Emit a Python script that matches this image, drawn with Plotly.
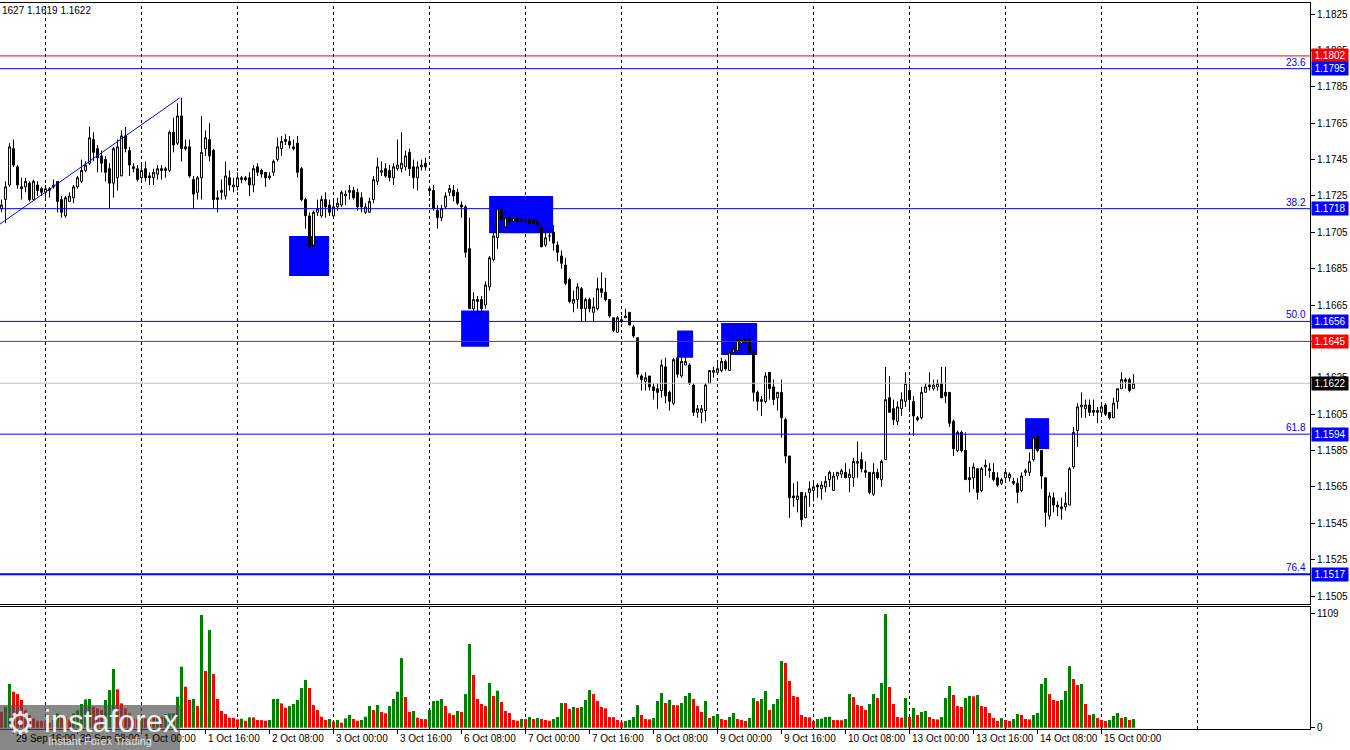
import pandas as pd
import plotly.graph_objects as go

# ---------------- data (EURUSD H1) ----------------
open_ = [1.1718,1.1723,1.1731,1.1751,1.1741,1.1730,1.1730,1.1732,1.1723,1.1731,1.1729,1.1727,1.1728,1.1730,1.1733,1.1723,1.1714,1.1722,1.1724,1.1730,
1.1733,1.1739,1.1743,1.1756,1.1751,1.1747,1.1745,1.1740,1.1732,1.1735,1.1736,1.1758,1.1750,1.1741,1.1740,1.1735,1.1740,1.1736,1.1735,1.1737,
1.1740,1.1739,1.1739,1.1760,1.1754,1.1769,1.1752,1.1752,1.1734,1.1727,1.1735,1.1751,1.1756,1.1750,1.1723,1.1728,1.1725,1.1735,1.1730,1.1730,
1.1734,1.1735,1.1735,1.1731,1.1741,1.1739,1.1738,1.1735,1.1738,1.1745,1.1751,1.1756,1.1755,1.1752,1.1754,1.1740,1.1723,1.1714,1.1698,1.1716,
1.1714,1.1723,1.1720,1.1714,1.1719,1.1720,1.1725,1.1727,1.1728,1.1727,1.1724,1.1716,1.1716,1.1723,1.1733,1.1738,1.1740,1.1739,1.1735,1.1740,
1.1740,1.1741,1.1749,1.1741,1.1735,1.1741,1.1743,1.1729,1.1728,1.1717,1.1713,1.1719,1.1727,1.1728,1.1727,1.1720,1.1719,1.1696,1.1663,1.1668,
1.1668,1.1665,1.1675,1.1690,1.1702,1.1718,1.1708,1.1713,1.1711,1.1713,1.1711,1.1711,1.1712,1.1712,1.1711,1.1708,1.1698,1.1703,1.1705,1.1698,
1.1692,1.1687,1.1679,1.1666,1.1668,1.1674,1.1663,1.1668,1.1661,1.1663,1.1674,1.1672,1.1668,1.1658,1.1650,1.1656,1.1658,1.1661,1.1653,1.1647,
1.1626,1.1623,1.1626,1.1620,1.1619,1.1618,1.1631,1.1617,1.1611,1.1636,1.1626,1.1632,1.1632,1.1621,1.1606,1.1606,1.1607,1.1622,1.1628,1.1628,
1.1629,1.1634,1.1629,1.1639,1.1640,1.1644,1.1645,1.1646,1.1639,1.1617,1.1612,1.1612,1.1628,1.1620,1.1614,1.1617,1.1602,1.1582,1.1560,1.1558,
1.1562,1.1548,1.1562,1.1563,1.1566,1.1564,1.1565,1.1569,1.1563,1.1571,1.1572,1.1573,1.1570,1.1570,1.1578,1.1580,1.1574,1.1573,1.1561,1.1573,
1.1569,1.1580,1.1614,1.1608,1.1601,1.1608,1.1612,1.1618,1.1612,1.1603,1.1603,1.1617,1.1621,1.1619,1.1620,1.1622,1.1617,1.1617,1.1601,1.1585,
1.1595,1.1585,1.1570,1.1570,1.1575,1.1563,1.1576,1.1575,1.1573,1.1570,1.1567,1.1570,1.1570,1.1568,1.1567,1.1563,1.1573,1.1573,1.1580,1.1593,
1.1585,1.1570,1.1549,1.1559,1.1555,1.1554,1.1554,1.1555,1.1576,1.1596,1.1609,1.1608,1.1610,1.1606,1.1606,1.1606,1.1610,1.1606,1.1603,1.1612,
1.1619,1.1623,1.1624,1.1619]

high = [1.1723,1.1733,1.1754,1.1756,1.1742,1.1735,1.1735,1.1733,1.1734,1.1733,1.1730,1.1731,1.1730,1.1734,1.1733,1.1725,1.1725,1.1727,1.1731,1.1736,
1.1745,1.1744,1.1763,1.1760,1.1753,1.1750,1.1747,1.1743,1.1752,1.1756,1.1761,1.1763,1.1752,1.1743,1.1742,1.1743,1.1744,1.1738,1.1740,1.1742,
1.1742,1.1741,1.1761,1.1768,1.1776,1.1779,1.1756,1.1756,1.1736,1.1736,1.1769,1.1761,1.1765,1.1751,1.1728,1.1734,1.1744,1.1739,1.1735,1.1738,
1.1736,1.1736,1.1738,1.1742,1.1743,1.1740,1.1738,1.1738,1.1745,1.1757,1.1758,1.1759,1.1758,1.1756,1.1758,1.1741,1.1724,1.1716,1.1717,1.1723,
1.1725,1.1727,1.1723,1.1723,1.1724,1.1728,1.1728,1.1731,1.1730,1.1729,1.1727,1.1721,1.1724,1.1736,1.1746,1.1744,1.1743,1.1742,1.1743,1.1756,
1.1760,1.1750,1.1751,1.1745,1.1744,1.1745,1.1746,1.1730,1.1731,1.1720,1.1720,1.1727,1.1731,1.1731,1.1729,1.1722,1.1720,1.1713,1.1672,1.1670,
1.1670,1.1678,1.1692,1.1706,1.1722,1.1722,1.1717,1.1714,1.1714,1.1714,1.1713,1.1714,1.1714,1.1713,1.1714,1.1711,1.1706,1.1708,1.1709,1.1700,
1.1695,1.1691,1.1680,1.1673,1.1677,1.1675,1.1669,1.1669,1.1669,1.1680,1.1683,1.1680,1.1668,1.1658,1.1659,1.1659,1.1663,1.1661,1.1654,1.1647,
1.1627,1.1628,1.1626,1.1622,1.1622,1.1635,1.1636,1.1618,1.1636,1.1637,1.1639,1.1646,1.1633,1.1622,1.1610,1.1610,1.1622,1.1629,1.1631,1.1633,
1.1636,1.1635,1.1640,1.1646,1.1648,1.1647,1.1647,1.1650,1.1640,1.1618,1.1615,1.1628,1.1628,1.1624,1.1617,1.1624,1.1603,1.1582,1.1567,1.1568,
1.1562,1.1562,1.1568,1.1568,1.1567,1.1568,1.1571,1.1574,1.1573,1.1573,1.1575,1.1578,1.1575,1.1581,1.1590,1.1584,1.1579,1.1573,1.1578,1.1575,
1.1580,1.1631,1.1626,1.1613,1.1612,1.1617,1.1628,1.1623,1.1615,1.1604,1.1620,1.1622,1.1628,1.1624,1.1624,1.1631,1.1631,1.1617,1.1602,1.1596,
1.1596,1.1595,1.1576,1.1578,1.1575,1.1576,1.1580,1.1578,1.1578,1.1573,1.1570,1.1575,1.1573,1.1570,1.1570,1.1573,1.1575,1.1584,1.1593,1.1595,
1.1585,1.1570,1.1562,1.1562,1.1557,1.1559,1.1562,1.1576,1.1598,1.1611,1.1617,1.1613,1.1613,1.1613,1.1609,1.1610,1.1611,1.1606,1.1614,1.1619,
1.1628,1.1625,1.1625,1.1627]

low = [1.1716,1.1710,1.1730,1.1741,1.1729,1.1723,1.1727,1.1722,1.1723,1.1725,1.1725,1.1724,1.1724,1.1729,1.1716,1.1713,1.1713,1.1722,1.1721,1.1729,
1.1732,1.1738,1.1742,1.1744,1.1738,1.1738,1.1733,1.1718,1.1724,1.1728,1.1736,1.1749,1.1736,1.1738,1.1733,1.1734,1.1733,1.1731,1.1731,1.1734,
1.1734,1.1735,1.1738,1.1749,1.1753,1.1744,1.1750,1.1735,1.1718,1.1723,1.1723,1.1747,1.1744,1.1718,1.1716,1.1723,1.1723,1.1728,1.1727,1.1728,
1.1732,1.1733,1.1725,1.1727,1.1736,1.1735,1.1730,1.1734,1.1736,1.1744,1.1747,1.1753,1.1751,1.1750,1.1735,1.1722,1.1707,1.1696,1.1697,1.1714,
1.1713,1.1713,1.1714,1.1713,1.1717,1.1719,1.1720,1.1723,1.1723,1.1717,1.1716,1.1715,1.1716,1.1721,1.1731,1.1736,1.1735,1.1733,1.1731,1.1739,
1.1738,1.1739,1.1736,1.1729,1.1728,1.1739,1.1739,1.1725,1.1717,1.1707,1.1711,1.1718,1.1725,1.1722,1.1720,1.1713,1.1691,1.1663,1.1658,1.1658,
1.1658,1.1663,1.1673,1.1689,1.1696,1.1707,1.1705,1.1709,1.1709,1.1709,1.1709,1.1709,1.1708,1.1709,1.1705,1.1697,1.1697,1.1700,1.1695,1.1689,
1.1685,1.1676,1.1666,1.1661,1.1663,1.1656,1.1656,1.1661,1.1656,1.1662,1.1669,1.1667,1.1658,1.1650,1.1650,1.1655,1.1658,1.1654,1.1647,1.1625,
1.1618,1.1618,1.1618,1.1613,1.1608,1.1614,1.1611,1.1607,1.1610,1.1625,1.1625,1.1632,1.1621,1.1604,1.1603,1.1600,1.1601,1.1622,1.1625,1.1628,
1.1628,1.1629,1.1629,1.1639,1.1639,1.1639,1.1642,1.1639,1.1612,1.1607,1.1604,1.1611,1.1613,1.1610,1.1607,1.1592,1.1578,1.1548,1.1554,1.1551,
1.1543,1.1548,1.1554,1.1557,1.1559,1.1558,1.1562,1.1565,1.1563,1.1569,1.1570,1.1570,1.1562,1.1565,1.1570,1.1573,1.1570,1.1561,1.1560,1.1569,
1.1565,1.1580,1.1606,1.1599,1.1599,1.1604,1.1609,1.1606,1.1593,1.1601,1.1602,1.1617,1.1618,1.1618,1.1618,1.1614,1.1611,1.1598,1.1582,1.1584,
1.1584,1.1569,1.1562,1.1564,1.1558,1.1562,1.1571,1.1570,1.1568,1.1565,1.1566,1.1568,1.1568,1.1566,1.1556,1.1562,1.1571,1.1571,1.1579,1.1584,
1.1564,1.1543,1.1547,1.1551,1.1549,1.1547,1.1552,1.1555,1.1575,1.1587,1.1603,1.1603,1.1604,1.1604,1.1600,1.1605,1.1604,1.1602,1.1603,1.1608,
1.1619,1.1619,1.1617,1.1619]

close = [1.1720,1.1730,1.1752,1.1742,1.1731,1.1729,1.1733,1.1723,1.1733,1.1728,1.1727,1.1729,1.1729,1.1731,1.1722,1.1716,1.1724,1.1725,1.1730,1.1735,
1.1739,1.1742,1.1757,1.1749,1.1746,1.1743,1.1738,1.1732,1.1751,1.1752,1.1758,1.1751,1.1742,1.1740,1.1734,1.1739,1.1735,1.1735,1.1738,1.1740,
1.1739,1.1740,1.1760,1.1753,1.1769,1.1751,1.1751,1.1736,1.1726,1.1735,1.1749,1.1757,1.1747,1.1723,1.1724,1.1727,1.1736,1.1731,1.1731,1.1735,
1.1735,1.1734,1.1731,1.1740,1.1738,1.1737,1.1735,1.1736,1.1744,1.1752,1.1755,1.1755,1.1753,1.1751,1.1738,1.1723,1.1714,1.1697,1.1716,1.1718,
1.1723,1.1719,1.1716,1.1719,1.1721,1.1727,1.1726,1.1728,1.1724,1.1719,1.1719,1.1719,1.1722,1.1734,1.1741,1.1739,1.1736,1.1735,1.1741,1.1742,
1.1743,1.1747,1.1740,1.1735,1.1741,1.1742,1.1741,1.1728,1.1718,1.1713,1.1718,1.1725,1.1729,1.1725,1.1721,1.1719,1.1694,1.1663,1.1668,1.1667,
1.1663,1.1676,1.1691,1.1703,1.1718,1.1712,1.1713,1.1711,1.1713,1.1711,1.1712,1.1712,1.1710,1.1710,1.1709,1.1697,1.1702,1.1703,1.1699,1.1694,
1.1688,1.1677,1.1667,1.1668,1.1675,1.1663,1.1668,1.1663,1.1664,1.1674,1.1672,1.1668,1.1659,1.1651,1.1658,1.1657,1.1659,1.1654,1.1648,1.1627,
1.1624,1.1625,1.1620,1.1618,1.1617,1.1632,1.1615,1.1612,1.1635,1.1627,1.1634,1.1634,1.1622,1.1606,1.1608,1.1608,1.1621,1.1629,1.1629,1.1630,
1.1634,1.1630,1.1639,1.1641,1.1646,1.1646,1.1646,1.1639,1.1617,1.1612,1.1613,1.1626,1.1619,1.1613,1.1617,1.1603,1.1582,1.1559,1.1559,1.1560,
1.1547,1.1560,1.1564,1.1565,1.1565,1.1566,1.1568,1.1573,1.1571,1.1573,1.1574,1.1570,1.1572,1.1579,1.1579,1.1575,1.1573,1.1562,1.1573,1.1570,
1.1579,1.1613,1.1606,1.1602,1.1609,1.1613,1.1622,1.1613,1.1604,1.1602,1.1617,1.1620,1.1620,1.1621,1.1622,1.1614,1.1615,1.1600,1.1586,1.1595,
1.1585,1.1569,1.1569,1.1576,1.1562,1.1575,1.1577,1.1574,1.1569,1.1566,1.1569,1.1573,1.1572,1.1567,1.1562,1.1571,1.1574,1.1579,1.1592,1.1585,
1.1571,1.1551,1.1560,1.1555,1.1554,1.1553,1.1556,1.1575,1.1595,1.1609,1.1610,1.1610,1.1606,1.1607,1.1607,1.1609,1.1605,1.1603,1.1611,1.1619,
1.1624,1.1624,1.1618,1.1622]

volume = [156,205,426,351,328,270,172,124,91,68,66,59,49,75,140,124,101,81,140,172,
231,276,280,205,189,172,270,367,572,374,237,189,140,91,81,107,91,101,100,124,
107,133,140,142,302,595,400,270,280,211,1099,553,952,523,280,163,133,98,97,81,
88,68,101,100,75,74,68,75,280,281,237,195,211,231,270,387,465,387,221,172,
107,75,85,59,75,49,91,124,85,68,75,107,211,172,221,153,140,211,280,351,
679,299,153,163,98,85,84,172,260,263,280,211,140,124,163,153,328,816,514,280,
231,211,436,309,361,250,163,143,75,68,85,84,104,85,94,85,75,68,85,104,
241,240,182,202,192,202,270,367,328,260,202,189,104,103,75,55,65,75,104,221,
124,85,81,94,260,338,241,270,221,218,241,309,338,280,211,153,260,94,114,133,
85,75,104,143,85,75,65,94,289,260,280,358,172,231,280,650,631,455,309,299,
124,104,101,65,85,88,104,107,75,74,73,85,328,299,221,211,172,231,328,289,
436,1108,397,231,104,98,289,104,192,124,153,163,104,85,81,104,289,406,319,211,
202,289,309,306,319,211,202,143,94,65,94,75,65,85,133,124,85,81,124,143,
426,484,328,270,260,270,358,601,475,416,426,231,124,133,94,75,65,75,114,143,
94,104,75,85]

volume_max_label = 1109

tick_labels = ["29 Sep 16:00", "30 Sep 08:00", "1 Oct 00:00", "1 Oct 16:00", "2 Oct 08:00",
               "3 Oct 00:00", "3 Oct 16:00", "6 Oct 08:00", "7 Oct 00:00", "7 Oct 16:00",
               "8 Oct 08:00", "9 Oct 00:00", "9 Oct 16:00", "10 Oct 08:00", "13 Oct 00:00",
               "13 Oct 16:00", "14 Oct 08:00", "15 Oct 00:00"]

price_ticks = [1.1505, 1.1525, 1.1545, 1.1565, 1.1585, 1.1605, 1.1625, 1.1645, 1.1665, 1.1685,
               1.1705, 1.1725, 1.1745, 1.1765, 1.1785, 1.1805, 1.1825]

level_prices = [1.1802, 1.1795, 1.1718, 1.1656, 1.1645, 1.1622, 1.1594, 1.1517]
level_colors = ["#FF0000", "#0000FF", "#0000FF", "#0000FF", "#FF0000", "#C0C0C0", "#0000FF", "#0000FF"]
level_box_colors = ["#FF0000", "#0000FF", "#0000FF", "#0000FF", "#FF0000", "#000000", "#0000FF", "#0000FF"]
level_widths = [1, 1, 1, 1, 1, 1, 1, 2]

fib_prices = [1.1795, 1.1718, 1.1656, 1.1594, 1.1517]
fib_labels = ["23.6", "38.2", "50.0", "61.8", "76.4"]

# analyst zones (bar index span, price span)
zone_x0 = [71.9, 114.9, 121.9, 168.9, 179.9, 255.9]
zone_x1 = [81.9, 121.9, 137.9, 172.9, 188.9, 261.9]
zone_top = [1.1703, 1.1662, 1.1725, 1.1651, 1.16551, 1.16028]
zone_bottom = [1.1681, 1.1642, 1.17045, 1.1636, 1.16375, 1.15858]

trend_x = [-0.4, 44.6]
trend_y = [1.17095, 1.1779]

header_text = "1627 1.1619 1.1622"

# ---------------- time axis ----------------
axis_times = [t for t in pd.date_range("2025-09-29 13:00", "2025-10-16 23:00", freq="h") if t.weekday() < 5]
axis_text = [f"{t.day} {t:%b %H:%M}" for t in axis_times]
n = len(close)
bars = list(range(n))
x_range = [-0.375, 327.125]
day_starts = [i for i, t in enumerate(axis_times) if t.hour == 0 and i <= x_range[1]]
label_pos = [axis_text.index(s) for s in tick_labels]

FONT = "Liberation Sans, Arial, sans-serif"

fig = go.Figure()
fig.add_trace(go.Candlestick(
    x=bars, open=open_, high=high, low=low, close=close,
    increasing=dict(line=dict(color="black", width=1), fillcolor="white"),
    decreasing=dict(line=dict(color="black", width=1), fillcolor="black"),
    whiskerwidth=0, xaxis="x", yaxis="y", hoverinfo="skip", showlegend=False))

vol_colors = ["#008000" if i > 0 and volume[i] > volume[i - 1] else "#FF0000" for i in range(n)]
fig.add_trace(go.Bar(x=bars, y=volume, width=0.75,
                     marker=dict(color=vol_colors, line=dict(width=0)),
                     xaxis="x2", yaxis="y2", hoverinfo="skip", showlegend=False))

fig.add_trace(go.Scatter(x=trend_x, y=trend_y, mode="lines", line=dict(color="#0000FF", width=1),
                         xaxis="x", yaxis="y", hoverinfo="skip", showlegend=False))

shapes = []
for g in day_starts:
    shapes.append(dict(type="line", xref="x", yref="paper", x0=g, x1=g, y0=0, y1=1,
                       line=dict(color="black", width=1, dash="3px,3px"), layer="below"))
for x0, x1, yt, yb in zip(zone_x0, zone_x1, zone_top, zone_bottom):
    shapes.append(dict(type="rect", xref="x", yref="y", x0=x0, x1=x1, y0=yb, y1=yt,
                       fillcolor="#0000FF", line=dict(width=0), layer="below"))
for p, c, w in zip(level_prices, level_colors, level_widths):
    shapes.append(dict(type="line", xref="x domain", yref="y", x0=0, x1=1, y0=p, y1=p,
                       line=dict(color=c, width=w), layer="above"))

# watermark box
shapes.append(dict(type="rect", xref="paper", yref="paper", x0=0, x1=180 / 1310,
                   y0=(729 - 750) / 726, y1=(729 - 705) / 726,
                   fillcolor="rgba(80,80,80,0.68)", line=dict(width=0), layer="above"))

annotations = []
for p, c in zip(level_prices, level_box_colors):
    annotations.append(dict(xref="paper", yref="y", x=1, y=p, xanchor="left", yanchor="middle",
                            xshift=1, text=f"{p:.4f}", showarrow=False, bgcolor=c, borderpad=0,
                            width=36, height=13, align="center",
                            font=dict(color="white", size=10, family=FONT)))
for p, t in zip(fib_prices, fib_labels):
    annotations.append(dict(xref="paper", yref="y", x=1, y=p, xanchor="right", yanchor="bottom",
                            xshift=-2, yshift=-1, text=t, showarrow=False,
                            font=dict(color="#0000FF", size=10, family=FONT)))
for pos, t in zip(label_pos, tick_labels):
    annotations.append(dict(xref="x2", yref="paper", x=pos, y=(729 - 738) / 726, xanchor="left",
                            yanchor="middle", text=t, showarrow=False,
                            font=dict(color="black", size=10, family=FONT)))
annotations.append(dict(xref="paper", yref="paper", x=0, y=(729 - 10) / 726, xanchor="left",
                        yanchor="middle", text=header_text, showarrow=False,
                        font=dict(color="black", size=10, family=FONT)))
# watermark texts
annotations.append(dict(xref="paper", yref="paper", x=4 / 1310, y=(729 - 723) / 726, xanchor="left",
                        yanchor="middle", text="⚙", showarrow=False,
                        font=dict(color="rgba(255,255,255,0.85)", size=32, family="DejaVu Sans")))
annotations.append(dict(xref="paper", yref="paper", x=42 / 1310, y=(729 - 721) / 726, xanchor="left",
                        yanchor="middle", text="instaforex", showarrow=False,
                        font=dict(color="rgba(255,255,255,0.92)", size=31, family=FONT)))
annotations.append(dict(xref="paper", yref="paper", x=46 / 1310, y=(729 - 741) / 726, xanchor="left",
                        yanchor="middle", text="Instant Forex Trading", showarrow=False,
                        font=dict(color="rgba(235,235,235,0.92)", size=11, family=FONT)))

axis_common = dict(showline=True, linecolor="black", linewidth=1, mirror=True, zeroline=False, showgrid=False)

fig.update_layout(
    width=1350, height=750,
    margin=dict(l=0, r=40, t=3, b=21, autoexpand=False),
    paper_bgcolor="white", plot_bgcolor="white",
    font=dict(family=FONT, size=10, color="black"),
    showlegend=False, hovermode=False,
    xaxis=dict(domain=[0, 1], range=x_range, anchor="y", showticklabels=False, ticks="",
               rangeslider=dict(visible=False), **axis_common),
    yaxis=dict(domain=[125 / 726, 1.0], range=[1.15006, 1.18311], side="right", anchor="x",
               tickvals=price_ticks, ticktext=[f"{v:.4f}" for v in price_ticks],
               ticks="outside", ticklen=4, tickcolor="black", **axis_common),
    xaxis2=dict(domain=[0, 1], range=x_range, anchor="y2", showticklabels=False,
                tickvals=label_pos, ticks="outside", ticklen=4, tickcolor="black", **axis_common),
    yaxis2=dict(domain=[0, 122 / 726], range=[-12.7, 1177], side="right", anchor="x2",
                tickvals=[0, volume_max_label], ticktext=["0", str(volume_max_label)],
                ticks="outside", ticklen=4, tickcolor="black", **axis_common),
    shapes=shapes,
    annotations=annotations,
)

fig.write_html("out.html", config={"displayModeBar": False},
               post_script="document.body.style.margin='0';document.body.style.overflow='hidden';")
